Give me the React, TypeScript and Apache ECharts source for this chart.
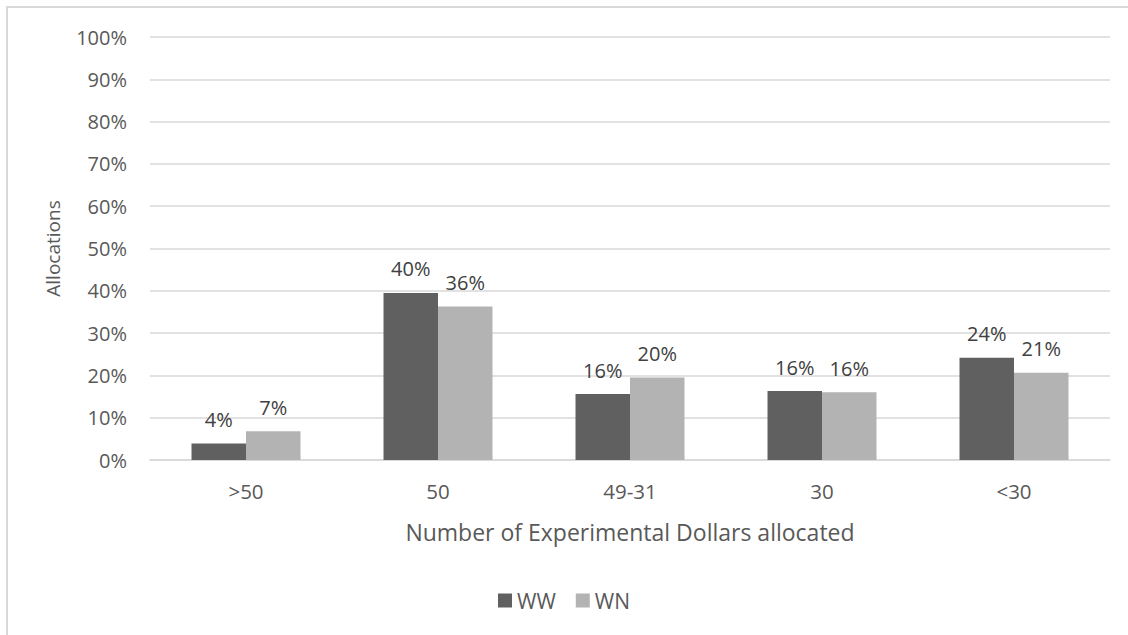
import React, { useEffect, useRef } from "react";
import * as echarts from "echarts";

const categories = [">50", "50", "49-31", "30", "<30"];
const wwValues = [0.039, 0.395, 0.156, 0.163, 0.242];
const wnValues = [0.068, 0.363, 0.195, 0.16, 0.206];
const seriesNames = ["WW", "WN"];
const yTicks = { min: 0, max: 1, interval: 0.1 };

const FONT = "'Open Sans', sans-serif";
const TICK_COLOR = "#595959";
const LABEL_COLOR = "#404040";
const GRID_COLOR = "#d9d9d9";

const pct = (v: number) => `${Math.round(v * 100)}%`;

export default function App() {
  const ref = useRef<HTMLDivElement>(null);

  useEffect(() => {
    document.body.style.margin = "0";
    if (!ref.current) return;
    const chart = echarts.init(ref.current, undefined, { renderer: "svg" });

    const barLabel = {
      show: true,
      position: "top" as const,
      distance: 14,
      color: LABEL_COLOR,
      fontFamily: FONT,
      fontSize: 20,
      formatter: (p: any) => pct(p.value),
    };

    chart.setOption({
      animation: false,
      backgroundColor: "#ffffff",
      textStyle: { fontFamily: FONT },
      graphic: [
        {
          type: "rect",
          shape: { x: 7, y: 7, width: 1140, height: 650 },
          style: { fill: "none", stroke: GRID_COLOR, lineWidth: 2 },
          silent: true,
        },
      ],
      grid: { left: 150, right: 18, top: 37, bottom: 175, containLabel: false },
      legend: {
        bottom: 19,
        left: "center",
        itemWidth: 14,
        itemHeight: 14,
        itemGap: 20,
        icon: "rect",
        textStyle: { color: TICK_COLOR, fontFamily: FONT, fontSize: 21 },
        data: seriesNames,
      },
      xAxis: {
        type: "category",
        data: categories,
        name: "Number of Experimental Dollars allocated",
        nameLocation: "middle",
        nameGap: 60,
        nameTextStyle: { color: TICK_COLOR, fontFamily: FONT, fontSize: 23 },
        axisTick: { show: false },
        axisLine: { show: true, lineStyle: { color: GRID_COLOR, width: 1.5 } },
        axisLabel: { color: TICK_COLOR, fontFamily: FONT, fontSize: 20.5, margin: 20 },
      },
      yAxis: {
        type: "value",
        min: yTicks.min,
        max: yTicks.max,
        interval: yTicks.interval,
        name: "Allocations",
        nameLocation: "middle",
        nameGap: 88,
        nameRotate: 90,
        nameTextStyle: { color: TICK_COLOR, fontFamily: FONT, fontSize: 19 },
        axisLine: { show: false },
        axisTick: { show: false },
        splitLine: { lineStyle: { color: GRID_COLOR, width: 1.5 } },
        axisLabel: {
          color: TICK_COLOR,
          fontFamily: FONT,
          fontSize: 20,
          margin: 23,
          formatter: (v: number) => pct(v),
        },
      },
      series: [
        {
          name: seriesNames[0],
          type: "bar",
          data: wwValues,
          barWidth: 54.5,
          barGap: "0%",
          itemStyle: { color: "#606060" },
          label: barLabel,
        },
        {
          name: seriesNames[1],
          type: "bar",
          data: wnValues,
          barWidth: 54.5,
          barGap: "0%",
          itemStyle: { color: "#b3b3b3" },
          label: barLabel,
        },
      ],
    });

    return () => chart.dispose();
  }, []);

  return <div ref={ref} style={{ width: 1128, height: 635 }} />;
}
